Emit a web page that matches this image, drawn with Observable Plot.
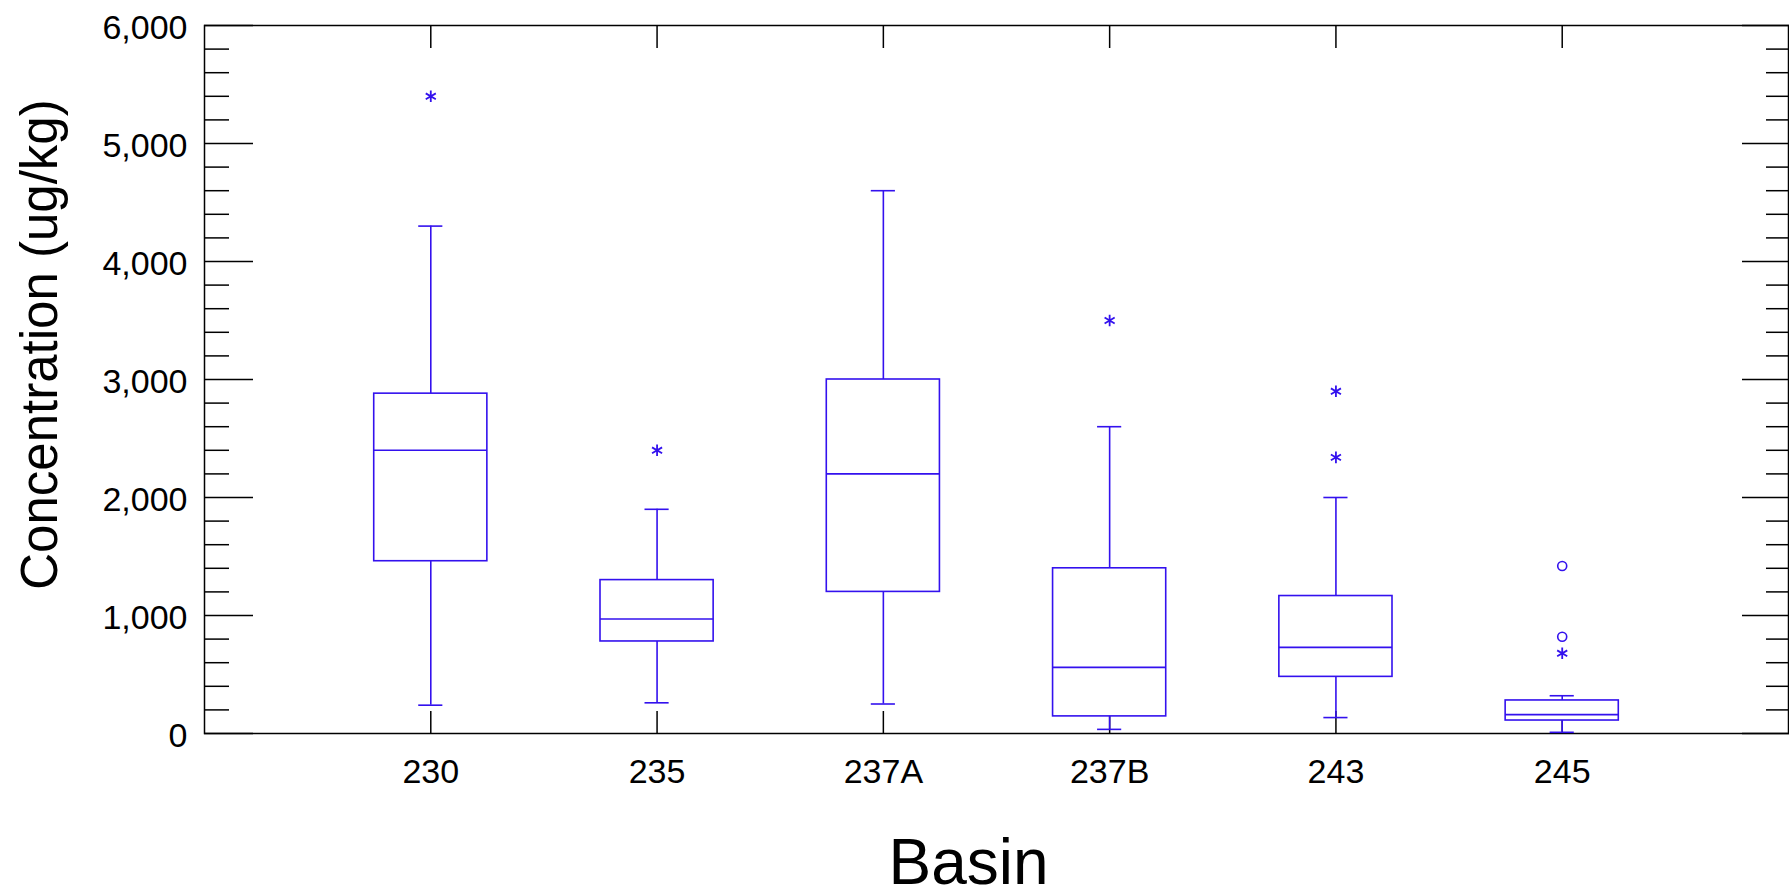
<!DOCTYPE html>
<html><head><meta charset="utf-8">
<script src="https://cdn.jsdelivr.net/npm/d3@7"></script>
<script src="https://cdn.jsdelivr.net/npm/@observablehq/plot@0.6"></script>
<style>html,body{margin:0;padding:0;background:#fff;}</style>
</head><body><div id="chart"></div>
<script>
// Categories
const basins = ["230", "235", "237A", "237B", "243", "245"];
// Box-plot summary values (ug/kg)
const whiskerLow  = [240, 260, 250, 35, 135, 10];
const quartile1   = [1460, 780, 1200, 145, 480, 110];
const medians     = [2400, 970, 2200, 560, 730, 160];
const quartile3   = [2880, 1300, 3000, 1400, 1165, 280];
const whiskerHigh = [4300, 1900, 4600, 2600, 2000, 320];
// Outliers
const outlierBasin  = ["230", "235", "237B", "243", "243", "245", "245", "245"];
const outlierValue  = [5400, 2400, 3500, 2900, 2340, 680, 1420, 820];
const outlierSymbol = ["asterisk", "asterisk", "asterisk", "asterisk", "asterisk", "asterisk", "circle", "circle"];
// Ticks and labels
const yMajorTicks = [0, 1000, 2000, 3000, 4000, 5000, 6000];
const yMinorTicks = [200, 400, 600, 800, 1200, 1400, 1600, 1800, 2200, 2400, 2600, 2800, 3200, 3400, 3600, 3800, 4200, 4400, 4600, 4800, 5200, 5400, 5600, 5800];
const xAxisTitle = "Basin";
const yAxisTitle = "Concentration (ug/kg)";

const stats = basins.map((b, i) => ({
  basin: b, lo: whiskerLow[i], q1: quartile1[i], med: medians[i], q3: quartile3[i], hi: whiskerHigh[i]
}));
const outliers = outlierBasin.map((b, i) => ({basin: b, value: outlierValue[i], symbol: outlierSymbol[i]}));

const blue = "#3311ee";
const lw = 1.6;
const capInset = 44.5;
const thousands = d3.format(",");

const chart = Plot.plot({
  width: 1789,
  height: 896,
  marginLeft: 204,
  marginRight: 1,
  marginTop: 25,
  marginBottom: 163,
  style: {fontFamily: "'Liberation Sans', Arial, sans-serif", background: "#fff", color: "#000", overflow: "visible"},
  x: {type: "band", domain: basins, paddingInner: 0.5, paddingOuter: 0.75, round: false},
  y: {domain: [0, 6000]},
  marks: [
    // minor/major inward ticks
    Plot.axisY({anchor: "left", ticks: yMinorTicks, tickSize: -25, tickFormat: () => "", label: null, strokeWidth: 1.5}),
    Plot.axisY({anchor: "left", ticks: yMajorTicks, tickSize: -49, tickFormat: () => "", label: null, strokeWidth: 1.5}),
    Plot.axisY({anchor: "right", ticks: yMinorTicks, tickSize: -23, tickFormat: () => "", label: null, strokeWidth: 1.5}),
    Plot.axisY({anchor: "right", ticks: yMajorTicks, tickSize: -47, tickFormat: () => "", label: null, strokeWidth: 1.5}),
    Plot.axisY({anchor: "left", ticks: yMajorTicks, tickSize: 0, tickPadding: 17, tickFormat: thousands, label: null, fontSize: 34, dy: 3}),
    Plot.axisX({anchor: "top", tickSize: -22, tickFormat: () => "", label: null, strokeWidth: 1.5}),
    Plot.axisX({anchor: "bottom", tickSize: -22, tickFormat: () => "", label: null, strokeWidth: 1.5}),
    Plot.axisX({anchor: "bottom", tickSize: 0, tickPadding: 25, label: null, fontSize: 34}),
    Plot.frame({stroke: "#000", strokeWidth: 1.5}),
    // whiskers
    Plot.ruleX(stats, {x: "basin", y1: "q3", y2: "hi", stroke: blue, strokeWidth: lw}),
    Plot.ruleX(stats, {x: "basin", y1: "lo", y2: "q1", stroke: blue, strokeWidth: lw}),
    Plot.tickY(stats, {x: "basin", y: "hi", stroke: blue, strokeWidth: lw, insetLeft: capInset, insetRight: capInset}),
    Plot.tickY(stats, {x: "basin", y: "lo", stroke: blue, strokeWidth: lw, insetLeft: capInset, insetRight: capInset}),
    // boxes
    Plot.barY(stats, {x: "basin", y1: "q1", y2: "q3", fill: "white", stroke: blue, strokeWidth: lw}),
    Plot.tickY(stats, {x: "basin", y: "med", stroke: blue, strokeWidth: lw}),
    // outliers
    Plot.dot(outliers.filter(d => d.symbol === "asterisk"), {x: "basin", y: "value", symbol: "asterisk", r: 5.5, stroke: blue, strokeWidth: 1.8}),
    Plot.dot(outliers.filter(d => d.symbol === "circle"), {x: "basin", y: "value", symbol: "circle", r: 4.5, stroke: blue, fill: "none", strokeWidth: 1.6}),
    // titles
    Plot.text([xAxisTitle], {text: d => d, frameAnchor: "bottom", textAnchor: "middle", dx: -28, dy: 150, fontSize: 64, fill: "#000"}),
    Plot.text([yAxisTitle], {text: d => d, frameAnchor: "left", textAnchor: "middle", rotate: -90, dx: -164, dy: -35, fontSize: 51, fill: "#000"})
  ]
});
document.getElementById("chart").appendChild(chart);
</script>
</body></html>
